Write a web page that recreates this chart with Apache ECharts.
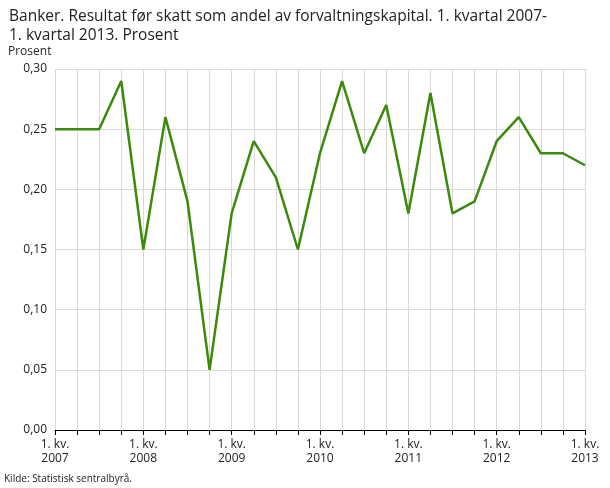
<!DOCTYPE html>
<html><head><meta charset="utf-8">
<script src="https://cdn.jsdelivr.net/npm/echarts@6/dist/echarts.min.js"></script>
<style>html,body{margin:0;padding:0;background:#fff}#c{width:610px;height:488px}</style>
</head><body><div id="c"></div>
<script>
const categories = ["2007K1","2007K2","2007K3","2007K4","2008K1","2008K2","2008K3","2008K4","2009K1","2009K2","2009K3","2009K4","2010K1","2010K2","2010K3","2010K4","2011K1","2011K2","2011K3","2011K4","2012K1","2012K2","2012K3","2012K4","2013K1"];
const values = [0.25,0.25,0.25,0.29,0.15,0.26,0.19,0.05,0.18,0.24,0.21,0.15,0.23,0.29,0.23,0.27,0.18,0.28,0.18,0.19,0.24,0.26,0.23,0.23,0.22];
const yTicks = [0,0.05,0.1,0.15,0.2,0.25,0.3];
const chart = echarts.init(document.getElementById('c'));
const F = '"Open Sans", sans-serif';
chart.setOption({
  animation:false,
  title:{text:'Banker. Resultat før skatt som andel av forvaltningskapital. 1. kvartal 2007-\n1. kvartal 2013. Prosent', left:4, top:2,
    textStyle:{fontFamily:F,fontSize:15.5,fontWeight:500,color:'#222',lineHeight:19}},
  graphic:[
    {type:'text',left:8,top:46,style:{text:'Prosent',font:'12px "Open Sans"',fill:'#222'}},
    {type:'text',left:4,top:474,style:{text:'Kilde: Statistisk sentralbyrå.',font:'10px "Open Sans"',fill:'#222'}}
  ],
  grid:{left:55,right:25,top:69,bottom:58},
  xAxis:{type:'category',data:categories,boundaryGap:false,
    axisLine:{lineStyle:{color:'#000'}},
    axisTick:{show:true,interval:0,length:5,lineStyle:{color:'#000'}},
    splitLine:{show:true,interval:0,lineStyle:{color:'#d9d9d9'}},
    axisLabel:{interval:0,fontFamily:F,fontSize:12,color:'#222',lineHeight:14,
      formatter:(v)=>v.endsWith('K1')?'1. kv.\n'+v.slice(0,4):''}},
  yAxis:{type:'value',min:0,max:0.3,interval:0.05,
    axisLine:{show:false},axisTick:{show:false},
    splitLine:{lineStyle:{color:'#d9d9d9'}},
    axisLabel:{fontFamily:F,fontSize:12,color:'#222',formatter:(v)=>v.toFixed(2).replace('.',',')}},
  series:[{type:'line',data:values,symbol:'none',lineStyle:{color:'#3c8a0c',width:2.5}}]
});
</script></body></html>
